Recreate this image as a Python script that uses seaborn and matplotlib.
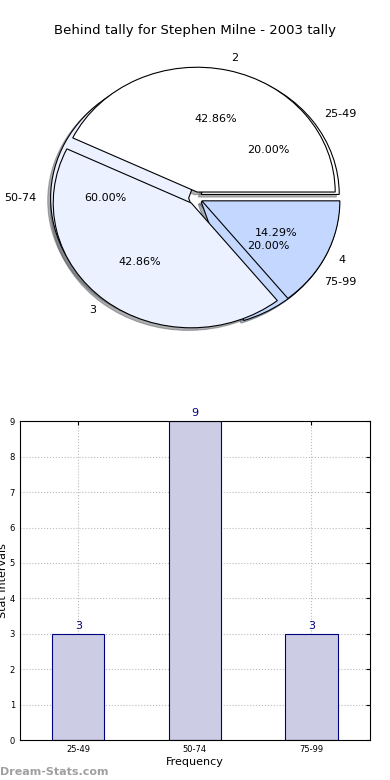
import numpy as np
import pandas as pd
import seaborn as sns
import matplotlib
matplotlib.use('Agg')
import matplotlib.pyplot as plt

# data
title = 'Behind tally for Stephen Milne - 2003 tally'
tally_labels = ['2', '3', '4']
tally_counts = [3, 3, 1]
range_labels = ['25-49', '50-74', '75-99']
range_counts = [3, 9, 3]

pie_colors = ['#FFFFFF', '#EBF1FF', '#C3D7FF']
bar_face = '#CCCCE5'
bar_edge = '#00007F'

sns.set_style('white')
plt.rcParams['font.family'] = ['DejaVu Sans']
plt.rcParams['text.color'] = 'black'
plt.rcParams['axes.labelcolor'] = 'black'
plt.rcParams['xtick.color'] = 'black'
plt.rcParams['ytick.color'] = 'black'

fig = plt.figure(figsize=(3.9, 7.8), dpi=100)

# --- pie (two pies stacked on top of each other) ---
ax1 = fig.add_axes([0.059, 0.546, 0.885, 0.40])
explode = [0.05, 0.05, 0.05]
ax1.pie(range_counts, labels=range_labels, colors=pie_colors, explode=explode,
        autopct='%1.2f%%', shadow={'ox': -0.015, 'oy': -0.015, 'shade': 0.6},
        labeldistance=1.1,
        wedgeprops={'edgecolor': 'black', 'linewidth': 0.8},
        textprops={'fontsize': 8, 'color': 'black'})
ax1.pie(tally_counts, labels=tally_labels, colors=pie_colors, explode=explode,
        autopct='%1.2f%%', shadow={'ox': -0.015, 'oy': -0.015, 'shade': 0.6},
        labeldistance=1.1,
        wedgeprops={'edgecolor': 'black', 'linewidth': 0.8},
        textprops={'fontsize': 8, 'color': 'black'})
ax1.set_aspect('auto')
ax1.set_xlim(-1.25, 1.25)
ax1.set_ylim(-1.25, 1.25)
fig.text(0.5, 0.961, title, ha='center', va='center', fontsize=9.5)

# --- bar chart ---
ax2 = fig.add_axes([0.051, 0.051, 0.897, 0.409])
df = pd.DataFrame({'range': range_labels, 'count': range_counts})
sns.barplot(data=df, x='range', y='count', color=bar_face, edgecolor=bar_edge,
            linewidth=0.8, width=0.45, saturation=1, ax=ax2, zorder=2)
for container in ax2.containers:
    ax2.bar_label(container, color=bar_edge, fontsize=8, padding=2)
ax2.set_xlim(-0.5, 2.5)
ax2.set_ylim(0, 9)
ax2.set_yticks(range(0, 10))
ax2.grid(True, linestyle=':', color='#BBBBBB', linewidth=0.8, zorder=0)
ax2.set_axisbelow(True)
ax2.tick_params(direction='in', labelsize=6, length=3, top=True, right=True)
ax2.set_xlabel('Frequency', fontsize=8, labelpad=2)
ax2.set_ylabel('Stat Intervals', fontsize=8, labelpad=1)
for s in ax2.spines.values():
    s.set_color('black')
    s.set_linewidth(0.8)

fig.text(0.0, 0.004, 'Dream-Stats.com', fontsize=8, color='#A0A0A0',
         fontweight='bold', ha='left', va='bottom')

plt.savefig('out.png', dpi=100)
plt.close()
